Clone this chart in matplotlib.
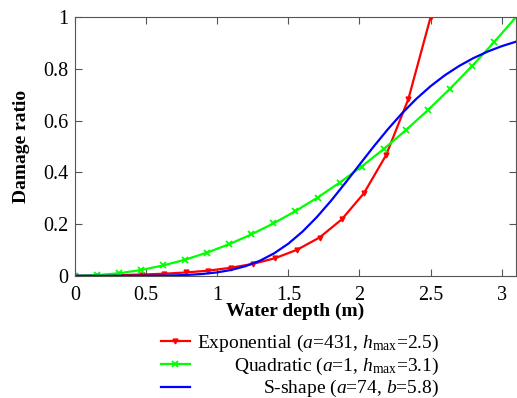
import numpy as np
import matplotlib
matplotlib.use("Agg")
import matplotlib.pyplot as plt

# valores
h_exp = [0, 0.156, 0.3125, 0.469, 0.625, 0.781, 0.9375, 1.094, 1.25, 1.406,
         1.5625, 1.719, 1.875, 2.031, 2.1875, 2.344, 2.5]
d_exp = [0, 0.001, 0.003, 0.005, 0.008, 0.013, 0.020, 0.031, 0.046, 0.068,
         0.101, 0.148, 0.218, 0.319, 0.467, 0.684, 1.0]

h_quad = [0, 0.155, 0.31, 0.465, 0.62, 0.775, 0.93, 1.085, 1.24, 1.395, 1.55,
          1.705, 1.86, 2.015, 2.17, 2.325, 2.48, 2.635, 2.79, 2.945, 3.1]
d_quad = [0, 0.0025, 0.01, 0.0225, 0.04, 0.0625, 0.09, 0.1225, 0.16, 0.2025, 0.25,
          0.3025, 0.36, 0.4225, 0.49, 0.5625, 0.64, 0.7225, 0.81, 0.9025, 1.0]

h_s = [0, 0.1, 0.2, 0.3, 0.4, 0.5, 0.6, 0.7, 0.8, 0.9, 1.0, 1.1, 1.2, 1.3, 1.4, 1.5,
       1.6, 1.7, 1.8, 1.9, 2.0, 2.1, 2.2, 2.3, 2.4, 2.5, 2.6, 2.7, 2.8, 2.9, 3.0, 3.1]
d_s = [0, 0, 0, 0, 0.0001, 0.0002, 0.0007, 0.0017, 0.0037, 0.0073, 0.0133, 0.0229,
       0.0375, 0.0583, 0.0869, 0.1243, 0.1711, 0.2268, 0.2901, 0.3587, 0.4296,
       0.4998, 0.5669, 0.6287, 0.6843, 0.7331, 0.7752, 0.8110, 0.8413, 0.8666,
       0.8877, 0.905]

labels = [r"Exponential ($a$=431, $h_{\mathrm{max}}$=2.5)",
          r"Quadratic ($a$=1, $h_{\mathrm{max}}$=3.1)",
          r"S-shape ($a$=74, $b$=5.8)"]

plt.rcParams['font.family'] = ['Liberation Serif', 'DejaVu Serif']
plt.rcParams['mathtext.fontset'] = 'custom'
plt.rcParams['mathtext.rm'] = 'Liberation Serif'
plt.rcParams['mathtext.it'] = 'Liberation Serif:italic'

fig = plt.figure(figsize=(5.17, 3.98), dpi=100)
ax = fig.add_axes([0.145, 0.307, 0.853, 0.650])

ax.plot(h_exp, d_exp, '-', color='#ff0000', lw=1.6, marker='v', ms=3.5, label=labels[0])
ax.plot(h_quad, d_quad, '-', color='#00ff00', lw=1.6, marker='x', ms=4, mew=1.3, label=labels[1])
ax.plot(h_s, d_s, '-', color='#0000ff', lw=1.6, label=labels[2])

ax.set_xlim(0, 3.1)
ax.set_ylim(0, 1)
ax.set_xticks([0, 0.5, 1, 1.5, 2, 2.5, 3])
ax.set_xticklabels(['0', '0.5', '1', '1.5', '2', '2.5', '3'])
ax.set_yticks([0, 0.2, 0.4, 0.6, 0.8, 1])
ax.set_yticklabels(['0', '0.2', '0.4', '0.6', '0.8', '1'])
ax.tick_params(direction='in', top=True, right=True, length=5, labelsize=14.5,
               color='#555555', pad=5)
ax.tick_params(axis='x', pad=7)
for s in ax.spines.values():
    s.set_color('#555555')

ax.set_xlabel('Water depth (m)', fontsize=14, fontweight='bold', labelpad=-1)
ax.set_ylabel('Damage ratio', fontsize=14, fontweight='bold', labelpad=9)

leg = ax.legend(loc='upper center', bbox_to_anchor=(0.51, -0.168), frameon=False,
                fontsize=14, handlelength=1.5, labelspacing=0.08, handletextpad=0.35,
                borderpad=0.2)

# texto alineado a la derecha en la leyenda
fig.canvas.draw()
renderer = fig.canvas.get_renderer()
widths = [t.get_window_extent(renderer).width for t in leg.get_texts()]
shift = max(widths)
for t, w in zip(leg.get_texts(), widths):
    t.set_position((shift - w, 0))

fig.savefig('out.png', dpi=100)
